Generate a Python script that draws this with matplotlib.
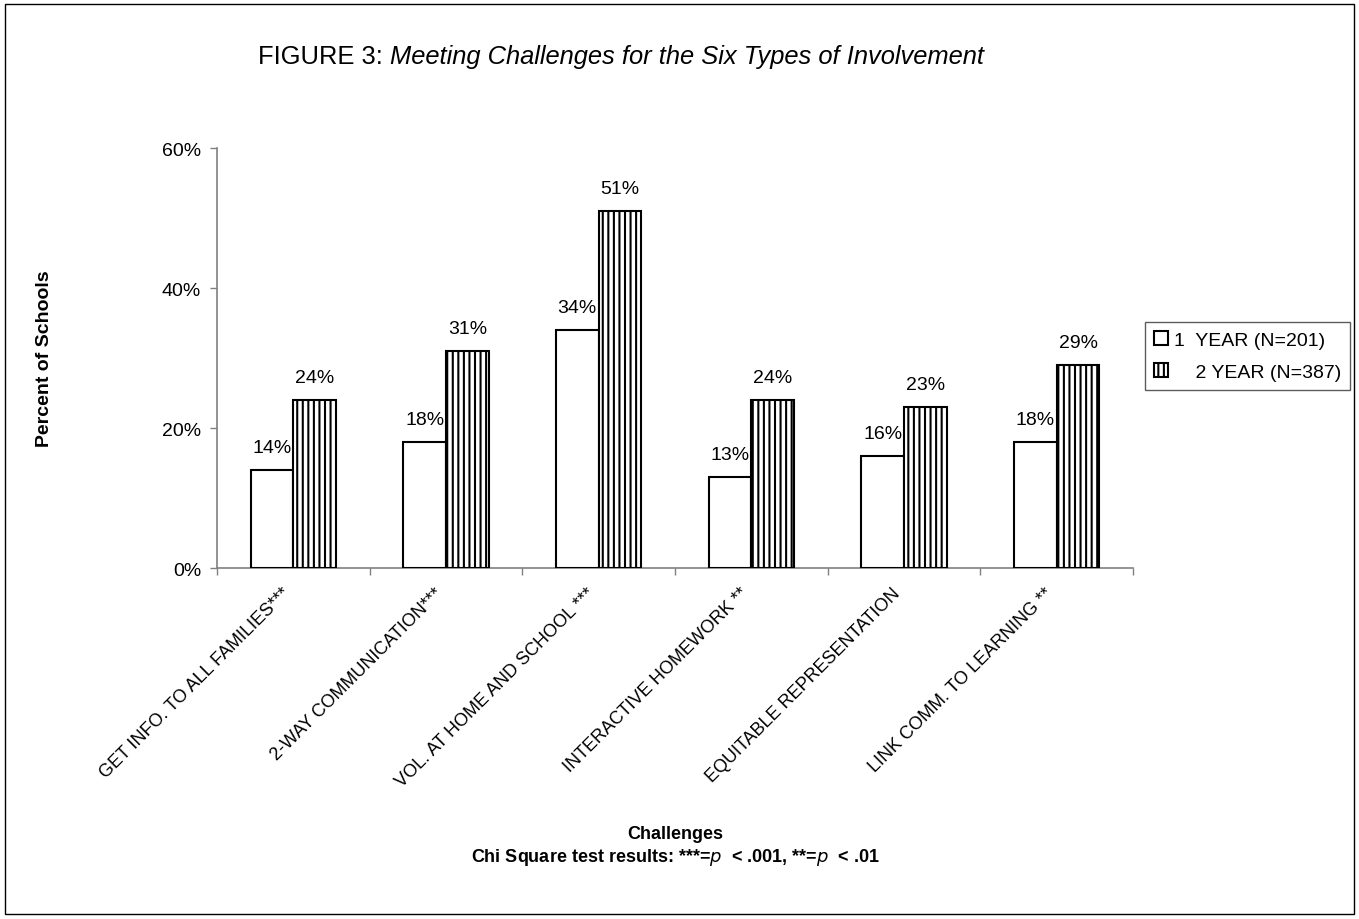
import matplotlib
matplotlib.use("Agg")
import matplotlib.pyplot as plt
from matplotlib.patches import Rectangle
from matplotlib.ticker import FuncFormatter, FixedLocator
from matplotlib.transforms import ScaledTranslation
import numpy as np

categories = [
    "GET INFO. TO ALL FAMILIES***",
    "2-WAY COMMUNICATION***",
    "VOL. AT HOME AND SCHOOL ***",
    "INTERACTIVE HOMEWORK **",
    "EQUITABLE REPRESENTATION",
    "LINK COMM. TO LEARNING **",
]
one_year = [14, 18, 34, 13, 16, 18]
two_year = [24, 31, 51, 24, 23, 29]
series_labels = ["1  YEAR (N=201)", "    2 YEAR (N=387)"]
y_ticks = [0, 20, 40, 60]

plt.rcParams["font.family"] = ["Liberation Sans", "DejaVu Sans"]
plt.rcParams["hatch.linewidth"] = 1.5

W, H = 1359, 920
fig = plt.figure(figsize=(W / 100, H / 100), dpi=100)
ax = fig.add_axes([217 / W, 1 - 569 / H, (1133 - 217) / W, (569 - 149) / H])

x = np.arange(len(categories))
w = 0.28
b1 = ax.bar(x - w / 2, one_year, w, color="white", edgecolor="black", linewidth=1.5,
            label=series_labels[0], zorder=3)
b2 = ax.bar(x + w / 2, two_year, w, color="white", edgecolor="black", linewidth=1.5,
            hatch="|||", label=series_labels[1], zorder=3)

for bars, vals in ((b1, one_year), (b2, two_year)):
    for r, v in zip(bars, vals):
        ax.text(r.get_x() + r.get_width() / 2, v + 2.0, f"{v}%", ha="center", va="bottom",
                fontsize=14)

ax.set_xlim(-0.5, len(categories) - 0.5)
ax.set_ylim(0, 60)
ax.yaxis.set_major_locator(FixedLocator(y_ticks))
ax.yaxis.set_major_formatter(FuncFormatter(lambda v, p: f"{v:.0f}%"))
ax.tick_params(axis="y", length=5, width=1, color="#808080", labelsize=14, pad=6.5)

ax.set_xticks(x)
ax.set_xticklabels(categories, rotation=45, ha="right", rotation_mode="anchor", fontsize=13)
ax.tick_params(axis="x", which="major", length=0, pad=10)
ax.set_xticks(np.arange(-0.5, len(categories) + 0.5, 1), minor=True)
ax.tick_params(axis="x", which="minor", length=5, width=1, color="#808080")
shift = ScaledTranslation(-0.12, -0.02, fig.dpi_scale_trans)
for lbl in ax.get_xticklabels():
    lbl.set_transform(lbl.get_transform() + shift)

for s in ("top", "right"):
    ax.spines[s].set_visible(False)
for s in ("left", "bottom"):
    ax.spines[s].set_color("#808080")
    ax.spines[s].set_linewidth(1.2)

ax.set_ylabel("Percent of Schools", fontsize=14, fontweight="bold", labelpad=0)
ax.yaxis.set_label_coords(-0.179, 0.5)

fig.text(675 / W, 1 - 835 / H, "Challenges", ha="center", va="center",
         fontsize=13, fontweight="bold")
fig.text(675 / W, 1 - 858 / H,
         r"Chi Square test results: ***=$\it{p}$  < .001, **=$\it{p}$  < .01",
         ha="center", va="center", fontsize=13, fontweight="bold")

leg = ax.legend(loc="upper left", bbox_to_anchor=(1145 / W, 1 - 323 / H),
                bbox_transform=fig.transFigure, frameon=True, fancybox=False,
                edgecolor="#333333", fontsize=14, handlelength=0.75, handleheight=0.75,
                handletextpad=0.3, borderpad=0.45, labelspacing=0.75, borderaxespad=0)
leg.get_frame().set_linewidth(1.0)

fig.patches.append(Rectangle((5 / W, 5 / H), 1 - 10 / W, 1 - 10 / H,
                             transform=fig.transFigure, fill=False,
                             edgecolor="black", linewidth=1.0))

# title: upright prefix + italic body, centred as one line
title_y = 1 - 57 / H
t1 = fig.text(0, title_y, "FIGURE 3: ", ha="left", va="center", fontsize=18.4)
t2 = fig.text(0, title_y, "Meeting Challenges for the Six Types of Involvement",
              ha="left", va="center", fontsize=18.4, style="italic")
fig.canvas.draw()
r = fig.canvas.get_renderer()
w1 = t1.get_window_extent(r).width
w2 = t2.get_window_extent(r).width
x0 = 621 - (w1 + w2) / 2
t1.set_x(x0 / W)
t2.set_x((x0 + w1) / W)

fig.savefig("out.png", dpi=100)
